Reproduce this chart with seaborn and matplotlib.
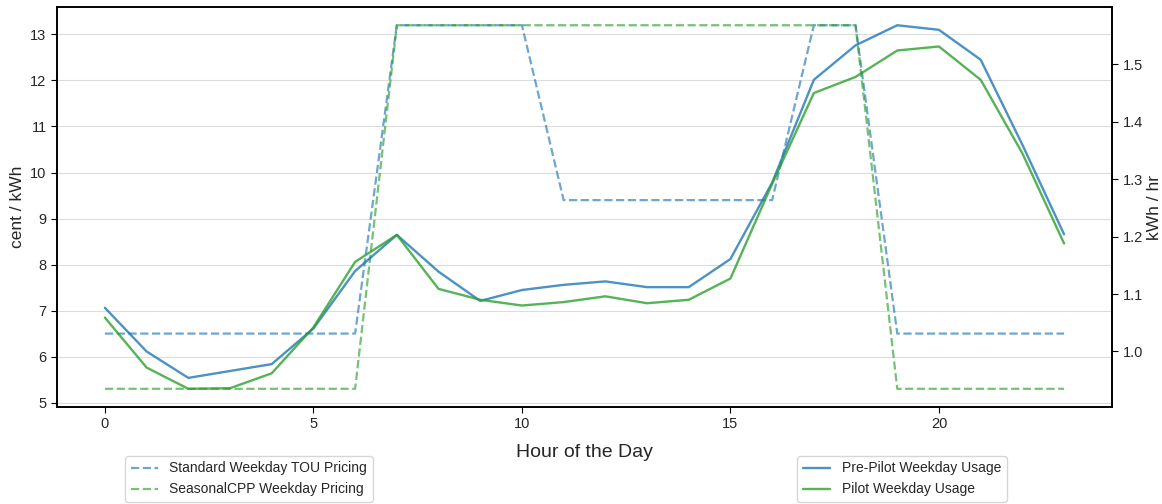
import numpy as np
import pandas as pd
import matplotlib
matplotlib.use("Agg")
import matplotlib.pyplot as plt
import seaborn as sns

hours = list(range(24))

# Tariff prices (cent / kWh)
standard_tou_price = [6.5] * 7 + [13.2] * 4 + [9.4] * 6 + [13.2] * 2 + [6.5] * 5
seasonal_cpp_price = [5.3] * 7 + [13.2] * 12 + [5.3] * 5

# Average hourly usage (kWh / hr)
pre_pilot_usage = [1.076, 1.000, 0.954, 0.966, 0.978, 1.040, 1.140, 1.203,
                   1.139, 1.088, 1.107, 1.116, 1.122, 1.112, 1.112, 1.161,
                   1.294, 1.473, 1.533, 1.568, 1.560, 1.508, 1.360, 1.204]
pilot_usage = [1.059, 0.972, 0.935, 0.936, 0.962, 1.042, 1.156, 1.203,
               1.109, 1.090, 1.080, 1.086, 1.096, 1.084, 1.090, 1.127,
               1.292, 1.450, 1.478, 1.524, 1.531, 1.473, 1.345, 1.188]

price_labels = ["Standard Weekday TOU Pricing", "SeasonalCPP Weekday Pricing"]
usage_labels = ["Pre-Pilot Weekday Usage", "Pilot Weekday Usage"]

sns.set_style("whitegrid", {
    "axes.edgecolor": "black",
    "grid.color": "#dcdcdc",
    "xtick.bottom": True,
    "ytick.left": True,
    "ytick.right": True,
})
plt.rcParams["font.family"] = ["Liberation Sans", "DejaVu Sans"]
plt.rcParams["axes.linewidth"] = 1.2

blue = "#1f77b4"
green = "#2ca02c"

fig, ax = plt.subplots(figsize=(11.62, 5.04), dpi=100)
fig.subplots_adjust(left=0.049, right=0.957, top=0.986, bottom=0.1925)

price_df = pd.DataFrame({"hour": hours, "tou": standard_tou_price, "cpp": seasonal_cpp_price})
usage_df = pd.DataFrame({"hour": hours, "pre": pre_pilot_usage, "pilot": pilot_usage})

sns.lineplot(data=price_df, x="hour", y="tou", ax=ax, color=blue, alpha=0.65,
             linestyle="--", linewidth=1.6, label=price_labels[0], legend=False)
sns.lineplot(data=price_df, x="hour", y="cpp", ax=ax, color=green, alpha=0.65,
             linestyle="--", linewidth=1.6, label=price_labels[1], legend=False)
ax.set_xlabel("Hour of the Day", fontsize=14, labelpad=9)
ax.set_ylabel("cent / kWh", fontsize=12.5)
ax.grid(axis="x", visible=False)
ax.tick_params(axis="both", labelsize=10.5, length=4, color="black")

ax2 = ax.twinx()
sns.lineplot(data=usage_df, x="hour", y="pre", ax=ax2, color=blue, alpha=0.8,
             linewidth=1.7, label=usage_labels[0], legend=False)
sns.lineplot(data=usage_df, x="hour", y="pilot", ax=ax2, color=green, alpha=0.8,
             linewidth=1.7, label=usage_labels[1], legend=False)
ax2.grid(False)
ax2.set_ylabel("kWh / hr", fontsize=12.5, labelpad=3)
ax2.tick_params(axis="y", labelsize=10.5, length=4, color="black", right=True)
ax2.set_xlabel("")

ax.set_xticks([0, 5, 10, 15, 20])

h1, l1 = ax.get_legend_handles_labels()
h2, l2 = ax2.get_legend_handles_labels()
fig.legend(h1, l1, loc="lower left", bbox_to_anchor=(0.1076, 0.004),
           fontsize=10, frameon=True, borderaxespad=0)
fig.legend(h2, l2, loc="lower left", bbox_to_anchor=(0.686, 0.004),
           fontsize=10, frameon=True, borderaxespad=0)

fig.savefig("out.png", dpi=100)
